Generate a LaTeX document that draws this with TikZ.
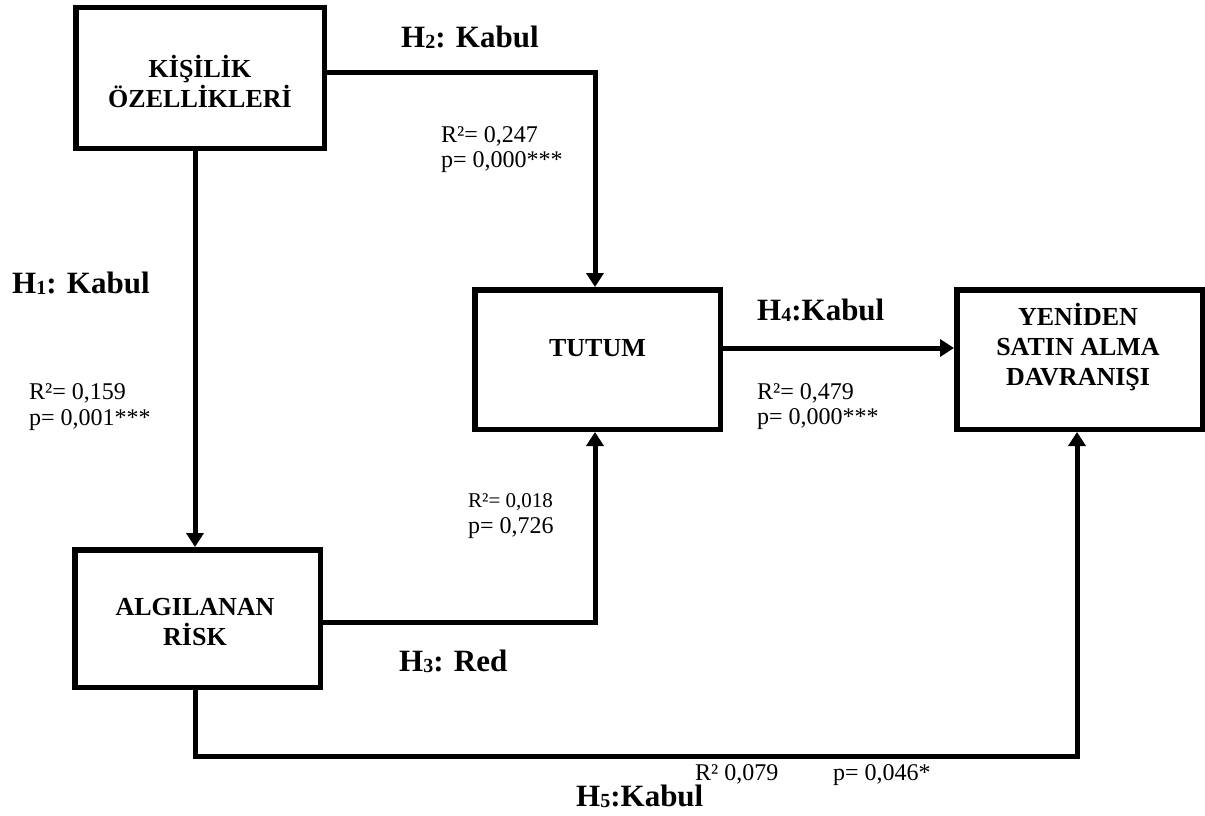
\documentclass[tikz,border=0pt]{standalone}
\usepackage{fontspec}
\setmainfont{Liberation Serif}
\usetikzlibrary{arrows.meta}

% hypothesis label: bold H with a small index digit
\newcommand{\hyp}[1]{H\raisebox{-1pt}{\fontsize{20}{20}\selectfont #1}}

\tikzset{
  box/.style={draw, line width=5.5pt, rectangle, inner sep=0pt},
  boxtext/.style={font=\fontsize{26}{30}\selectfont\bfseries, align=center, inner sep=0pt},
  hlabel/.style={font=\fontsize{31}{36}\selectfont\bfseries, anchor=base west, inner sep=0pt},
  stat/.style={font=\fontsize{24}{28}\selectfont, anchor=base west, inner sep=0pt},
  statsmall/.style={font=\fontsize{21}{25}\selectfont, anchor=base west, inner sep=0pt},
  conn/.style={line width=5pt, -{Triangle[length=14pt,width=17pt]}},
}

\begin{document}
\begin{tikzpicture}[x=1pt,y=-1pt]
\useasboundingbox (0,0) rectangle (1205,816);

% boxes
\node[box, minimum width=248.5pt, minimum height=140.5pt] (kis) at (200,78) {};
\node[boxtext] (kistxt) at (200,81) {KİŞİLİK\\ÖZELLİKLERİ};

\node[box, minimum width=245.5pt, minimum height=137.5pt] (alg) at (197.5,618.5) {};
\node[boxtext] (algtxt) at (195,622) {ALGILANAN\\RİSK};

\node[box, minimum width=245.5pt, minimum height=139.5pt] (tut) at (597.5,359.5) {};
\node[boxtext] (tuttxt) at (597.5,348) {TUTUM};

\node[box, minimum width=245.5pt, minimum height=139.5pt] (yen) at (1079.5,359.5) {};
\node[boxtext] (yentxt) at (1078,347) {YENİDEN\\SATIN ALMA\\DAVRANIŞI};

% bend points of the connectors
\coordinate (h1x) at (195,0);
\coordinate (h2c) at (595,73);
\coordinate (h3c) at (595,622);
\coordinate (h4y) at (0,348);
\coordinate (h5r) at (1077,756);

% connectors
\draw[conn] (kis.south -| h1x) -- (alg.north -| h1x);
\draw[conn] (kis.east |- h2c) -- (h2c) -- (h2c |- tut.north);
\draw[conn] (alg.east |- h3c) -- (h3c) -- (h3c |- tut.south);
\draw[conn] (tut.east |- h4y) -- (yen.west |- h4y);
\draw[conn] (alg.south -| h1x) |- (h5r) -- (h5r |- yen.south);

% hypothesis results
\node[hlabel] (l1) at (12,293) {\hyp{1}: Kabul};
\node[hlabel] (l2) at (401,48) {\hyp{2}: Kabul};
\node[hlabel] (l3) at (399,671) {\hyp{3}: Red};
\node[hlabel] (l4) at (757,320) {\hyp{4}:Kabul};
\node[hlabel] (l5) at (576,806) {\hyp{5}:Kabul};

% statistics
\node[stat] (r1) at (29,399) {R²= 0,159};
\node[stat] (p1) at (29,425) {p= 0,001***};
\node[stat] (r2) at (441,142) {R²= 0,247};
\node[stat] (p2) at (441,167) {p= 0,000***};
\node[statsmall] (r3) at (468,507) {R²= 0,018};
\node[stat] (p3) at (468,533) {p= 0,726};
\node[stat] (r4) at (757,399) {R²= 0,479};
\node[stat] (p4) at (757,424) {p= 0,000***};
\node[stat] (r5) at (695,780) {R² 0,079};
\node[stat] (p5) at (833,780) {p= 0,046*};
\end{tikzpicture}
\end{document}
